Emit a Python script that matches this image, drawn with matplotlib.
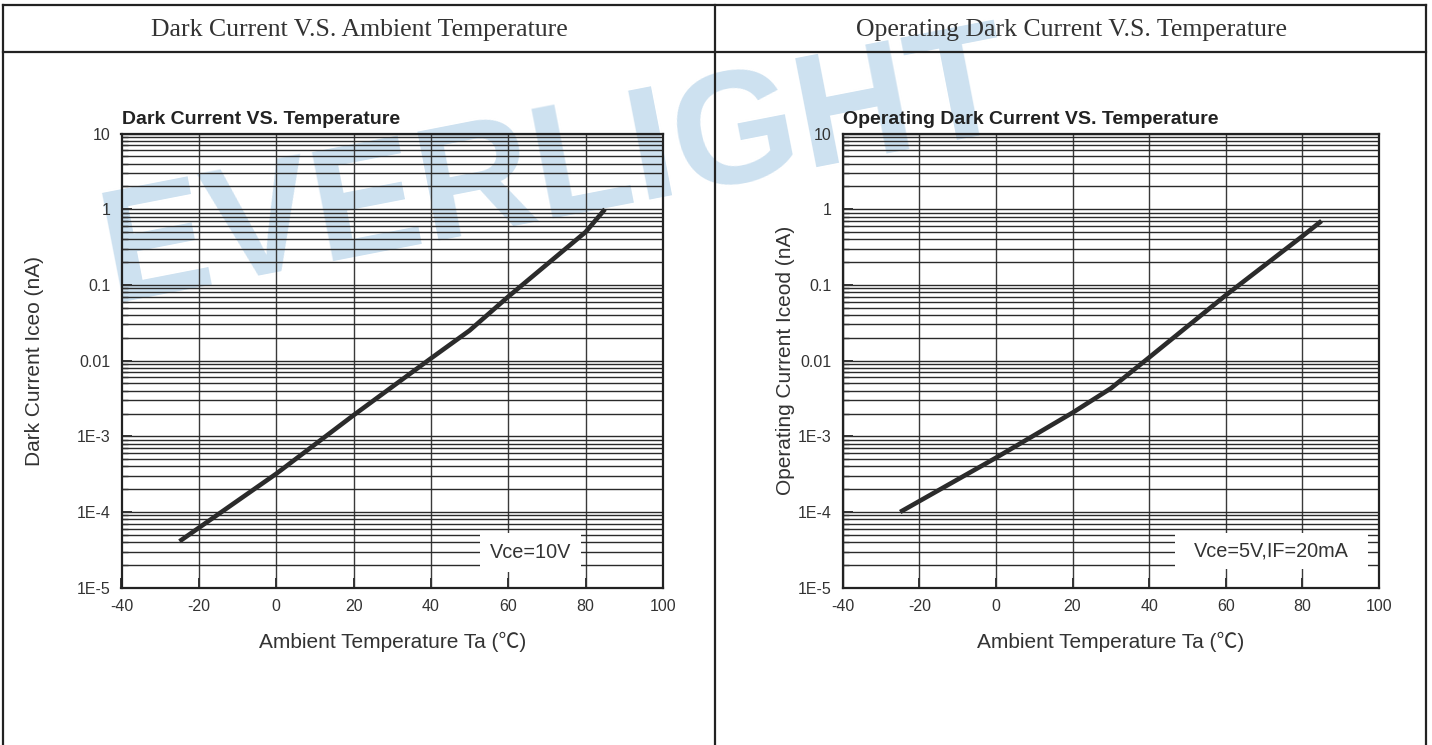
import matplotlib
matplotlib.use("Agg")
import matplotlib.pyplot as plt
from matplotlib.lines import Line2D
from matplotlib.patches import Rectangle
from matplotlib.ticker import LogLocator, NullFormatter

# ---- data ----
temp_dark = [-25, 0, 20, 40, 50, 60, 80, 85]
iceo_dark = [4.1e-5, 3.2e-4, 1.9e-3, 1.07e-2, 2.5e-2, 7.0e-2, 0.5, 1.0]

temp_oper = [-25, 0, 20, 30, 40, 60, 80, 85]
iceo_oper = [1.0e-4, 5.2e-4, 2.05e-3, 4.3e-3, 1.1e-2, 7.3e-2, 0.44, 0.70]

x_ticks = [-40, -20, 0, 20, 40, 60, 80, 100]
y_ticks = [1e-5, 1e-4, 1e-3, 1e-2, 1e-1, 1, 10]
y_tick_labels = ["1E-5", "1E-4", "1E-3", "0.01", "0.1", "1", "10"]

W, H = 1432, 745
fig = plt.figure(figsize=(W / 100, H / 100), dpi=100)
fig.patch.set_facecolor("white")

SANS = ["Liberation Sans", "DejaVu Sans"]
SANS_C = ["Liberation Sans", "Noto Sans CJK JP", "DejaVu Sans"]


def px(x, y):
    # pixel (from top-left) -> figure fraction
    return x / W, 1 - y / H


# watermark behind everything
wx, wy = px(112, 302)
fig.text(wx, wy, "EVERLIGHT", fontsize=116, fontweight="bold",
         family=SANS, color="#cde1f0", rotation=11, rotation_mode="anchor",
         ha="left", va="baseline", zorder=-5)

# table frame
frame = [((3, 3), (5, 745)), ((1426, 1426), (5, 745)), ((715, 715), (5, 745)),
         ((3, 1426), (5, 5)), ((3, 1426), (52, 52))]
for xs, ys in frame:
    fig.add_artist(Line2D([x / W for x in xs], [1 - y / H for y in ys],
                          color="#222222", lw=1.6, transform=fig.transFigure))

fig.text(*px(359, 30), "Dark Current V.S. Ambient Temperature", family="Liberation Serif",
         fontsize=18.5, color="#333333", ha="center", va="center")
fig.text(*px(1071, 30), "Operating Dark Current V.S. Temperature", family="Liberation Serif",
         fontsize=18.5, color="#333333", ha="center", va="center")


def make_panel(rect, t, i, title, ylabel, label_x, note, note_box):
    ax = fig.add_axes(rect)
    ax.set_facecolor("none")
    ax.set_yscale("log")
    ax.set_xlim(-40, 100)
    ax.set_ylim(1e-5, 10)

    ax.set_xticks(x_ticks)
    ax.set_xticklabels([str(v) for v in x_ticks])
    ax.set_yticks(y_ticks)
    ax.set_yticklabels(y_tick_labels)
    ax.yaxis.set_minor_locator(LogLocator(base=10, subs=range(2, 10)))
    ax.yaxis.set_minor_formatter(NullFormatter())

    ax.grid(True, which="major", axis="x", color="#3a3a3a", lw=1.0)
    ax.grid(True, which="both", axis="y", color="#2a2a2a", lw=1.0)

    ax.tick_params(which="major", direction="in", length=7, width=1.4, color="#333333",
                   labelsize=11.5, labelcolor="#333333", pad=8)
    ax.tick_params(which="minor", direction="in", length=4, width=1.0, color="#333333")
    for lab in ax.get_xticklabels() + ax.get_yticklabels():
        lab.set_family(SANS)

    for s in ax.spines.values():
        s.set_color("#222222")
        s.set_linewidth(1.6)
        s.set_zorder(3)

    ax.plot(t, i, color="#2b2b2b", lw=3.3, solid_capstyle="butt", zorder=4)

    x0, y0, x1, y1 = note_box
    ax.add_patch(Rectangle((x0, y0), x1 - x0, y1 - y0, transform=ax.transAxes,
                           facecolor="white", edgecolor="none", zorder=2.2))
    ax.text((x0 + x1) / 2, (y0 + y1) / 2, note, transform=ax.transAxes, family=SANS,
            fontsize=14.3, color="#333333", ha="center", va="center", zorder=5)

    ax.text(0.0, 1.012, title, transform=ax.transAxes, family=SANS, fontsize=14,
            fontweight="bold", color="#222222", ha="left", va="bottom")
    ax.set_xlabel("Ambient Temperature Ta (\u2103)", family=SANS_C, fontsize=15,
                  color="#333333", labelpad=13)
    ax.set_ylabel(ylabel, family=SANS, fontsize=15, color="#333333")
    ax.yaxis.set_label_coords(label_x, 0.5)
    return ax


ax1 = make_panel([121.5 / W, 1 - 587.7 / H, 541.5 / W, 454.2 / H],
                 temp_dark, iceo_dark, "Dark Current VS. Temperature",
                 "Dark Current Iceo (nA)", -0.143, "Vce=10V", (0.662, 0.035, 0.8486, 0.1204))
ax2 = make_panel([842.7 / W, 1 - 587.7 / H, 536.3 / W, 454.2 / H],
                 temp_oper, iceo_oper, "Operating Dark Current VS. Temperature",
                 "Operating Current Iceod (nA)", -0.089, "Vce=5V,IF=20mA",
                 (0.6196, 0.0405, 0.9795, 0.1204))

fig.savefig("out.png", dpi=100)
